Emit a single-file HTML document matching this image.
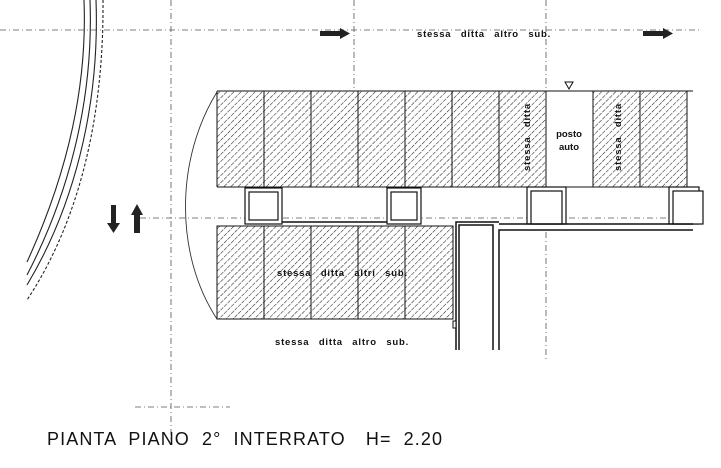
<!DOCTYPE html>
<html><head><meta charset="utf-8"><style>
html,body{margin:0;padding:0;background:#fff;width:721px;height:468px;overflow:hidden}
svg{display:block}
text{font-family:"Liberation Sans",sans-serif;fill:#111}
</style></head><body>
<svg width="721" height="468" viewBox="0 0 721 468" xmlns="http://www.w3.org/2000/svg">
<defs>
<pattern id="h" width="5" height="5" patternUnits="userSpaceOnUse" patternTransform="rotate(45)">
<line x1="0" y1="0" x2="0" y2="5" stroke="#222" stroke-width="1.1" stroke-dasharray="3.5 1"/>
</pattern>
</defs>
<g stroke="#555" stroke-width="0.8" stroke-dasharray="6 3 1 3" fill="none">
<line x1="0" y1="30" x2="700" y2="30"/>
<line x1="171" y1="0" x2="171" y2="440"/>
<line x1="354" y1="0" x2="354" y2="90"/>
<line x1="546" y1="0" x2="546" y2="90"/>
<line x1="546" y1="232" x2="546" y2="360"/>
<line x1="140" y1="218" x2="693" y2="218"/>
<line x1="135" y1="407" x2="230" y2="407"/>
</g>
<g stroke="#222" stroke-width="1.1" fill="none">
<path d="M84,0 C88,100 60,190 27,262"/>
<path d="M90,0 C94,105 66,200 27,275"/>
<path d="M96,0 C100,110 72,210 27,285"/>
<path d="M103,0 C104,115 80,220 27,300" stroke-dasharray="3 2"/>
</g>
<path d="M217,92 C175,160 175,255 217,319" stroke="#333" stroke-width="0.9" fill="none"/>
<rect x="217" y="91" width="476" height="96" fill="url(#h)"/>
<rect x="546" y="91" width="47" height="96" fill="#fff"/>
<rect x="687" y="91" width="6" height="96" fill="#fff"/>
<g stroke="#111" stroke-width="1" fill="none">
<line x1="217" y1="91" x2="693" y2="91"/>
<line x1="217" y1="187" x2="693" y2="187"/>
<line x1="217" y1="91" x2="217" y2="187"/>
<line x1="264" y1="91" x2="264" y2="187"/>
<line x1="311" y1="91" x2="311" y2="187"/>
<line x1="358" y1="91" x2="358" y2="187"/>
<line x1="405" y1="91" x2="405" y2="187"/>
<line x1="452" y1="91" x2="452" y2="187"/>
<line x1="499" y1="91" x2="499" y2="187"/>
<line x1="546" y1="91" x2="546" y2="187"/>
<line x1="593" y1="91" x2="593" y2="187"/>
<line x1="640" y1="91" x2="640" y2="187"/>
<line x1="687" y1="91" x2="687" y2="187"/>
</g>
<path d="M565,82 L573,82 L569,89 Z" fill="none" stroke="#111" stroke-width="1"/>
<rect x="217" y="226" width="236" height="93" fill="url(#h)"/>
<g stroke="#111" stroke-width="1" fill="none">
<rect x="217" y="226" width="236" height="93"/>
<line x1="264" y1="226" x2="264" y2="319"/>
<line x1="311" y1="226" x2="311" y2="319"/>
<line x1="358" y1="226" x2="358" y2="319"/>
<line x1="405" y1="226" x2="405" y2="319"/>
</g>
<g stroke="#111" stroke-width="1.2" fill="#fff">
<rect x="245" y="188" width="37" height="36"/>
<rect x="249" y="192" width="29" height="28"/>
<rect x="387" y="188" width="34" height="36"/>
<rect x="391" y="192" width="26" height="28"/>
<rect x="527" y="187" width="39" height="37"/>
<rect x="531" y="191" width="31" height="33"/>
<rect x="669" y="187" width="30" height="37"/>
<rect x="673" y="191" width="30" height="33"/>
</g>
<line x1="282" y1="222" x2="387" y2="222" stroke="#111" stroke-width="1.4"/>
<g stroke="#111" stroke-width="1.5" fill="none">
<path d="M456,350 L456,222 L499,222"/>
<path d="M459,350 L459,225 L493,225 L493,350"/>
<path d="M499,350 L499,230 L693,230"/>
<line x1="499" y1="224" x2="693" y2="224"/>
</g>
<rect x="453" y="321" width="3" height="7" fill="#fff" stroke="#111" stroke-width="1"/>
<g fill="#222">
<rect x="320" y="31" width="20" height="5"/><path d="M340,28 L350,33.5 L340,39 Z"/>
<rect x="643" y="31" width="20" height="5"/><path d="M663,28 L673,33.5 L663,39 Z"/>
<rect x="111" y="205" width="5" height="19"/><path d="M107,223 L120,223 L113.5,233 Z"/>
<rect x="134" y="214" width="6" height="19"/><path d="M131,215 L143,215 L137,204 Z"/>
</g>
<g font-size="9.5" font-weight="bold" word-spacing="6" letter-spacing="0.8">
<text x="417" y="37">stessa ditta altro sub.</text>
<text x="277" y="276">stessa ditta altri sub.</text>
<text x="275" y="345">stessa ditta altro sub.</text>
<text x="569" y="137" text-anchor="middle" word-spacing="0" letter-spacing="0">posto</text>
<text x="569" y="150" text-anchor="middle" word-spacing="0" letter-spacing="0">auto</text>
<text transform="translate(530,137) rotate(-90)" text-anchor="middle">stessa ditta</text>
<text transform="translate(621,137) rotate(-90)" text-anchor="middle">stessa ditta</text>
</g>
<text x="47" y="445" font-size="18" letter-spacing="1.1" word-spacing="6">PIANTA PIANO 2° INTERRATO <tspan dx="8">H= 2.20</tspan></text>
</svg>
</body></html>
